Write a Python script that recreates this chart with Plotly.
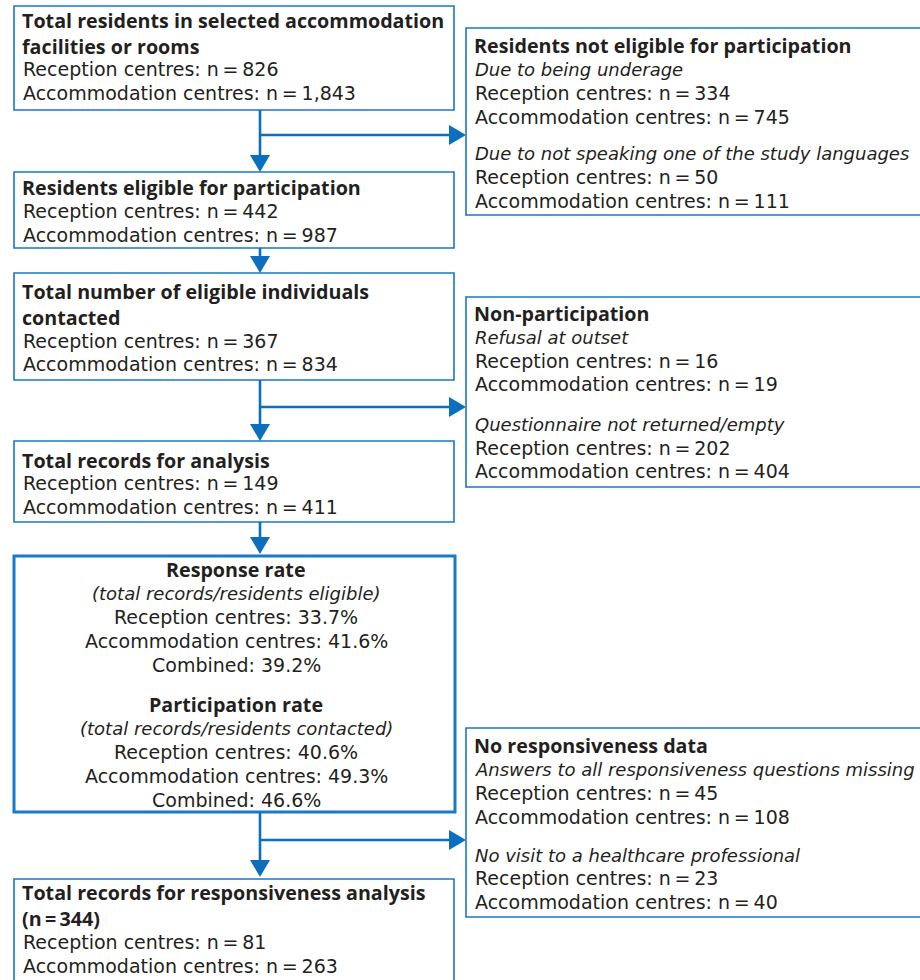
import plotly.graph_objects as go

# ---- data ----
stage_titles = ["Total residents in selected accommodation<br>facilities or rooms",
                "Residents eligible for participation",
                "Total number of eligible individuals<br>contacted",
                "Total records for analysis",
                "Total records for responsiveness analysis<br>(n\u2009=\u2009344)"]
stage_reception = [826, 442, 367, 149, 81]
stage_accommodation = ["1,843", 987, 834, 411, 263]

excl_titles = ["Residents not eligible for participation",
               "Non-participation",
               "No responsiveness data"]
excl_reasons = [["Due to being underage", "Due to not speaking one of the study languages"],
                ["Refusal at outset", "Questionnaire not returned/empty"],
                ["Answers to all responsiveness questions missing", "No visit to a healthcare professional"]]
excl_reception = [[334, 50], [16, 202], [45, 23]]
excl_accommodation = [[745, 111], [19, 404], [108, 40]]

rate_titles = ["Response rate", "Participation rate"]
rate_defs = ["(total records/residents eligible)", "(total records/residents contacted)"]
rate_reception = [33.7, 40.6]
rate_accommodation = [41.6, 49.3]
rate_combined = [39.2, 46.6]

BOX = "#1a78c4"
ARROW = "#0b6fbd"
TXT = "#231f20"
REG = "DejaVu Sans"
BOLD = "Open Sans"

fig = go.Figure()
shapes = []
ann = []


def box(x0, y0, x1, y1, w=1.6):
    shapes.append(dict(type="rect", x0=x0, y0=y0, x1=x1, y1=y1,
                       line=dict(color=BOX, width=w), fillcolor="white", layer="below"))


def txt(x, y, s, anchor="left", kind="reg"):
    if kind == "bold":
        f = dict(family=BOLD, size=19.7, color=TXT, weight="bold")
        s = "<br>".join(f"<b>{p}</b>" for p in s.split("<br>"))
    elif kind == "ital":
        f = dict(family=REG, size=18, color=TXT, style="italic")
        s = f"<i>{s}</i>"
    else:
        f = dict(family=REG, size=19, color=TXT)
    ann.append(dict(x=x, y=y, text=s, showarrow=False, xanchor=anchor, yanchor="middle",
                    font=f, align=anchor))


def vline(x, y0, y1):
    shapes.append(dict(type="line", x0=x, x1=x, y0=y0, y1=y1, line=dict(color=ARROW, width=2.6)))


def hline(y, x0, x1):
    shapes.append(dict(type="line", x0=x0, x1=x1, y0=y, y1=y, line=dict(color=ARROW, width=2.6)))


def head_down(x, ytip):
    shapes.append(dict(type="path", path=f"M {x-10},{ytip-17} L {x+10},{ytip-17} L {x},{ytip} Z",
                       fillcolor=ARROW, line=dict(width=0)))


def head_right(xtip, y):
    shapes.append(dict(type="path", path=f"M {xtip-17},{y-10} L {xtip-17},{y+10} L {xtip},{y} Z",
                       fillcolor=ARROW, line=dict(width=0)))


def n(v):
    return f"n\u2009=\u2009{v}"


# left column boxes: (top, bottom, line centres)
left = [(6, 110, [21, 45, 69, 93]),
        (172, 248, [187, 211, 235]),
        (273, 380, [292, 316, 341, 364]),
        (441, 522, [460, 483, 507]),
        (879, 995, [893, 918, 942, 966])]

for i, (t, b, ys) in enumerate(left):
    box(14, t, 454, b)
    nt = stage_titles[i].count("<br>") + 1
    txt(20, sum(ys[:nt]) / nt, stage_titles[i], kind="bold")
    txt(21, ys[nt], f"Reception centres: {n(stage_reception[i])}")
    txt(21, ys[nt + 1], f"Accommodation centres: {n(stage_accommodation[i])}")

# rates box
box(14, 556, 455, 812, w=3)
rate_ys = [[569, 593, 617, 641, 665], [704, 728, 752, 776, 800]]
for j in range(2):
    ys = rate_ys[j]
    txt(236, ys[0], rate_titles[j], "center", "bold")
    txt(236, ys[1], rate_defs[j], "center", "ital")
    txt(236, ys[2], f"Reception centres: {rate_reception[j]}%", "center")
    txt(236, ys[3], f"Accommodation centres: {rate_accommodation[j]}%", "center")
    txt(236, ys[4], f"Combined: {rate_combined[j]}%", "center")

# right column boxes
right = [(28, 215, [45, 69, 93, 117, 153, 177, 201]),
         (297, 487, [313, 337, 361, 384, 424, 448, 471]),
         (728, 917, [745, 769, 793, 817, 855, 878, 902])]
for i, (t, b, ys) in enumerate(right):
    box(466, t, 940, b)
    txt(472, ys[0], excl_titles[i], kind="bold")
    for r in range(2):
        txt(473, ys[1 + 3 * r], excl_reasons[i][r], kind="ital")
        txt(473, ys[2 + 3 * r], f"Reception centres: {n(excl_reception[i][r])}")
        txt(473, ys[3 + 3 * r], f"Accommodation centres: {n(excl_accommodation[i][r])}")

# connectors
X = 260
vline(X, 110, 160); head_down(X, 172)
hline(135, X, 452); head_right(466, 135)
vline(X, 248, 262); head_down(X, 273)
vline(X, 380, 430); head_down(X, 441)
hline(407, X, 452); head_right(466, 407)
vline(X, 522, 542); head_down(X, 554)
vline(X, 812, 864); head_down(X, 877)
hline(840, X, 452); head_right(466, 840)

fig.update_layout(
    width=920, height=980,
    margin=dict(l=0, r=0, t=0, b=0),
    paper_bgcolor="white", plot_bgcolor="white",
    shapes=shapes, annotations=ann,
    xaxis=dict(range=[0, 920], visible=False, fixedrange=True),
    yaxis=dict(range=[980, 0], visible=False, fixedrange=True),
    showlegend=False,
)

# drop the default body margin so the figure fills the window exactly
fig.write_html("out.html", config={"displayModeBar": False},
               post_script="document.body.style.margin='0';document.body.style.overflow='hidden';")
